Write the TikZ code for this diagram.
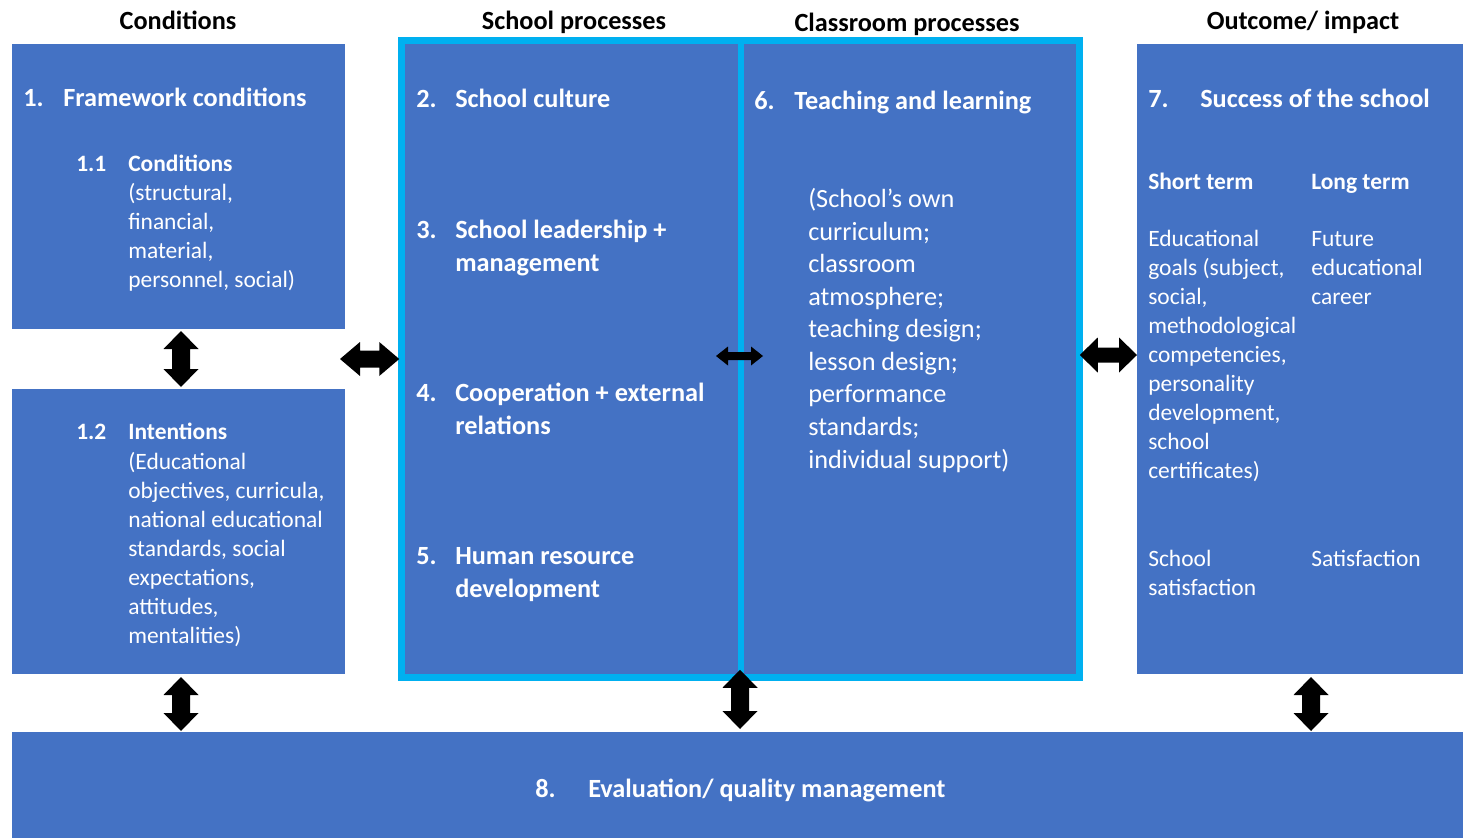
\documentclass[tikz,border=0pt]{standalone}
\usepackage{fontspec}
\setmainfont{Carlito}
\usetikzlibrary{calc,fit}
\definecolor{boxblue}{HTML}{4472C4}
\definecolor{framecyan}{HTML}{00B0F0}
\newcommand{\bigf}{\fontsize{19.7}{24.4}\selectfont}
\newcommand{\smf}{\fontsize{17.6}{21.75}\selectfont}
\newcommand{\titf}{\fontsize{19.7}{24}\selectfont\bfseries}
\newcommand{\vbiarrow}[5]{\fill[black] (#1) -- ($(#1)+(#3,#5)$) -- ($(#1)+(#4,#5)$) -- ($(#2)+(#4,-#5)$) -- ($(#2)+(#3,-#5)$) -- (#2) -- ($(#2)+(-#3,-#5)$) -- ($(#2)+(-#4,-#5)$) -- ($(#1)+(-#4,#5)$) -- ($(#1)+(-#3,#5)$) -- cycle;}
\newcommand{\hbiarrow}[5]{\fill[black] (#1) -- ($(#1)+(#5,-#3)$) -- ($(#1)+(#5,-#4)$) -- ($(#2)+(-#5,-#4)$) -- ($(#2)+(-#5,-#3)$) -- (#2) -- ($(#2)+(-#5,#3)$) -- ($(#2)+(-#5,#4)$) -- ($(#1)+(#5,#4)$) -- ($(#1)+(#5,#3)$) -- cycle;}
\tikzset{
  box/.style={fill=boxblue, inner sep=0pt, outer sep=0pt},
  txt/.style={text=white, inner sep=0pt, anchor=base west, align=left},
  bigb/.style={txt, font=\bigf\bfseries},
  bign/.style={txt, font=\bigf},
  smb/.style={txt, font=\smf\bfseries},
  smn/.style={txt, font=\smf},
  coltitle/.style={text=black, inner sep=0pt, anchor=base, font=\titf}
}
\begin{document}
\begin{tikzpicture}[x=0.75pt,y=-0.75pt]
\useasboundingbox (0,0) rectangle (1463,838);
% boxes
\node[box, fit={(12,44) (345,329)}] (b1) {};
\node[box, fit={(12,389) (345,674)}] (b12) {};
\node[box, draw=framecyan, line width=4.9pt, fit={(401.25,40.25) (1079.75,677.75)}] (fr) {};
\draw[framecyan, line width=4.5pt] (fr.north) -- (fr.south);
\node[box, fit={(1137,44) (1463,674)}] (b7) {};
\node[box, fit={(12,732) (1463,838)}] (b8) {};
% column titles
\node[coltitle] (h1) at (178,30) {Conditions};
\node[coltitle] (h2) at (574,30) {School processes};
\node[coltitle] (h3) at (907,32) {Classroom processes};
\node[coltitle] (h4) at (1303,30) {Outcome/ impact};
\begin{scope}[shift={(0,1.5)}]
% box 1 (multi-line nodes: base = baseline of last line)
\node[bigb] (n1) at (23,105) {1.};
\node[bigb] (t1) at (63,105) {Framework conditions};
\node[smb] (n11) at (76,170) {1.1};
\node[smb] (t11) at (128,170) {Conditions};
\node[smn] (d11) at (128,286) {(structural,\\financial,\\material,\\personnel, social)};
% box 1.2
\node[smb] (n12) at (76,438) {1.2};
\node[smb] (t12) at (128,438) {Intentions};
\node[smn] (d12) at (128,642) {(Educational\\objectives, curricula,\\national educational\\standards, social\\expectations,\\attitudes,\\mentalities)};
% school processes
\node[bigb] (n2) at (416,106) {2.};
\node[bigb] (t2) at (455,106) {School culture};
\node[bigb] (n3) at (416,237) {3.};
\node[bigb] (t3) at (455,269.5) {School leadership +\\management};
\node[bigb] (n4) at (416,400) {4.};
\node[bigb] (t4) at (455,432.5) {Cooperation + external\\relations};
\node[bigb] (n5) at (416,563) {5.};
\node[bigb] (t5) at (455,595.5) {Human resource\\development};
% classroom processes
\node[bigb] (n6) at (754,108) {6.};
\node[bigb] (t6) at (794,108) {Teaching and learning};
\node[bign] (d6) at (808,466.5) {(School’s own\\curriculum;\\classroom\\atmosphere;\\teaching design;\\lesson design;\\performance\\standards;\\individual support)};
% outcome
\node[bigb] (n7) at (1148,106) {7.};
\node[bigb] (t7) at (1200,106) {Success of the school};
\node[smb] (st) at (1148,188) {Short term};
\node[smb] (lt) at (1311,188) {Long term};
\node[smn] (d7a) at (1148,477) {Educational\\goals (subject,\\social,\\methodological\\competencies,\\personality\\development,\\school\\certificates)};
\node[smn] (d7b) at (1311,303) {Future\\educational\\career};
\node[smn] (d7c) at (1148,594) {School\\satisfaction};
\node[smn] (d7d) at (1311,565) {Satisfaction};
% evaluation
\node[bigb] (n8) at (535,796) {8.};
\node[bigb] (t8) at (588,796) {Evaluation/ quality management};
\end{scope}
% arrow end points
\coordinate (a1t) at ($(b1.south)+(2.5,2)$);
\coordinate (a1b) at ($(b12.north)+(2.5,-2)$);
\coordinate (a2l) at ($(b1.south east)!0.5!(b12.north east)+(-5,0)$);
\coordinate (a2r) at ($(a2l -| fr.west)+(-2,0)$);
\coordinate (a3l) at ($(a2l -| fr.north)+(-24.5,-3)$);
\coordinate (a3r) at ($(a2l -| fr.north)+(22.5,-3)$);
\coordinate (a4l) at ($(a2l -| fr.east)+(0,-4)$);
\coordinate (a4r) at ($(a2l -| b7.west)+(0,-4)$);
\coordinate (a5t) at ($(b12.south)+(2.5,3)$);
\coordinate (a5b) at ($(a5t |- b8.north)+(0,-1)$);
\coordinate (a6t) at ($(fr.south)+(-0.5,-8)$);
\coordinate (a6b) at ($(a6t |- b8.north)+(0,-3)$);
\coordinate (a7t) at ($(b7.south)+(11,3)$);
\coordinate (a7b) at ($(a7t |- b8.north)+(0,-1)$);
% arrows
\vbiarrow{a1t}{a1b}{17.5}{9}{18}
\hbiarrow{a2l}{a2r}{17}{8.5}{20}
\hbiarrow{a3l}{a3r}{9.5}{4}{12}
\hbiarrow{a4l}{a4r}{17.5}{7.5}{18}
\vbiarrow{a5t}{a5b}{17.5}{9}{18}
\vbiarrow{a6t}{a6b}{17.5}{9}{18}
\vbiarrow{a7t}{a7b}{17.5}{9}{18}
\end{tikzpicture}
\end{document}
